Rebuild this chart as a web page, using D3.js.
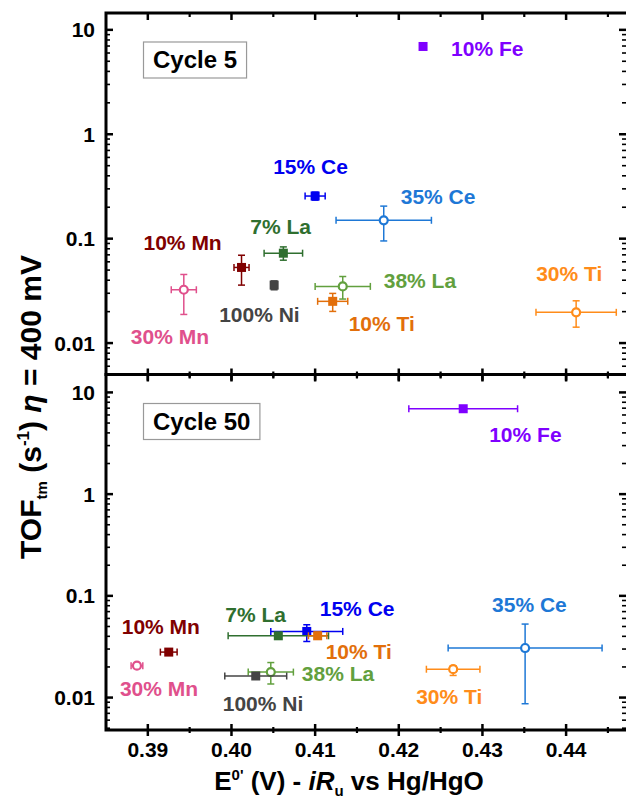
<!DOCTYPE html>
<html>
<head>
<meta charset="utf-8">
<script src="https://cdn.jsdelivr.net/npm/d3@7"></script>
<style>
  body { margin: 0; background: #fff; }
  svg { display: block; font-family: "Liberation Sans", Arial, sans-serif; font-weight: bold; }
</style>
</head>
<body>
<svg id="chart" width="626" height="802"></svg>
<script>
// Catalysts and their series styling
const catalysts = ["10% Fe", "15% Ce", "35% Ce", "7% La", "38% La", "10% Mn", "30% Mn", "100% Ni", "10% Ti", "30% Ti"];
const seriesColors = ["#7f00ff", "#0000f0", "#1e78d6", "#2f6f2f", "#62a03e", "#800000", "#e0508c", "#444444", "#e26f0b", "#ff8c1a"];
const openMarker = [false, false, true, false, true, false, true, false, false, true];

// Cycle 5: formal potential (V), its error, TOF (s^-1) and TOF error range
const cycle5E    = [0.4229, 0.4100, 0.4182, 0.4062, 0.4133, 0.4012, 0.3943, 0.4051, 0.4121, 0.4412];
const cycle5Eerr = [0,      0.0012, 0.0057, 0.0023, 0.0033, 0.0009, 0.0015, 0.0003, 0.0018, 0.0048];
const cycle5TOF  = [6.93,   0.256,  0.150,  0.0726, 0.0349, 0.0530, 0.0324, 0.0359, 0.0251, 0.0197];
const cycle5Lo   = [null,   0.234,  0.0951, 0.0622, 0.0264, 0.0359, 0.0188, 0.0324, 0.0201, 0.0142];
const cycle5Hi   = [null,   0.279,  0.205,  0.0834, 0.0434, 0.0694, 0.0454, 0.0394, 0.0299, 0.0254];

// Cycle 50
const cycle50E    = [0.4277, 0.4090, 0.4351, 0.4056, 0.4047, 0.3925, 0.3887, 0.4029, 0.4103, 0.4265];
const cycle50Eerr = [0.0065, 0.0043, 0.0092, 0.0060, 0.0027, 0.0010, 0.0007, 0.0037, 0.0011, 0.0032];
const cycle50TOF  = [6.91,   0.0447, 0.0307, 0.0405, 0.0178, 0.0280, 0.0206, 0.0163, 0.0405, 0.0190];
const cycle50Lo   = [null,   0.0356, 0.0087, null,   0.0136, null,   null,   null,   0.0375, 0.0165];
const cycle50Hi   = [null,   0.0520, 0.0528, null,   0.0221, null,   null,   null,   0.0440, 0.0205];

// Axis ticks
const xMajorTicks = [0.39, 0.40, 0.41, 0.42, 0.43, 0.44];
const xTickLabels = ["0.39", "0.40", "0.41", "0.42", "0.43", "0.44"];
const xMinorTicks = [0.395, 0.405, 0.415, 0.425, 0.435, 0.445];
const yMajorTicks = [0.01, 0.1, 1, 10];
const yTickLabels = ["0.01", "0.1", "1", "10"];

// Label placement relative to each marker (left edge, baseline), in px
const labelOffset5  = [[28, 10], [-42, -22], [17, -16], [-33, -19], [41, 2], [-98, -17], [-53, 54], [-55, 37], [16, 30], [-40, -31]];
const labelOffset50 = [[26, 33], [13, -15], [-33, -36], [-53, -14], [31, 9], [-47, -18], [-17, 30], [-33, 35], [8, 23], [-37, 35]];

const svg = d3.select("#chart");
const left = 106, right = 628;
const x = d3.scaleLinear().domain([0.385, 0.4474]).range([left, right]);

const panels = [
  { title: "Cycle 5", top: 13, bottom: 374.5,
    y: d3.scaleLog().domain([0.005, 14.5]).range([374.5, 13]),
    E: cycle5E, Eerr: cycle5Eerr, T: cycle5TOF, lo: cycle5Lo, hi: cycle5Hi, off: labelOffset5, xLabels: false },
  { title: "Cycle 50", top: 374.5, bottom: 730,
    y: d3.scaleLog().domain([0.0048, 15]).range([730, 374.5]),
    E: cycle50E, Eerr: cycle50Eerr, T: cycle50TOF, lo: cycle50Lo, hi: cycle50Hi, off: labelOffset50, xLabels: true }
];

const cap = 3.5;

panels.forEach(p => {
  const g = svg.append("g");
  const y = p.y;

  // y minor ticks: 2..9 of each decade inside the domain
  const [d0, d1] = y.domain();
  const yMinor = [];
  for (let e = -3; e <= 1; e++) {
    for (let m = 2; m <= 9; m++) {
      const v = m * Math.pow(10, e);
      if (v > d0 && v < d1) yMinor.push(v);
    }
  }

  const axes = g.append("g").attr("stroke", "#000");
  // left and right axes, ticks pointing inward
  yMajorTicks.forEach(v => {
    axes.append("line").attr("x1", left).attr("x2", left + 7).attr("y1", y(v)).attr("y2", y(v)).attr("stroke-width", 2.5);
    axes.append("line").attr("x1", right).attr("x2", right - 9).attr("y1", y(v)).attr("y2", y(v)).attr("stroke-width", 2.5);
  });
  yMinor.forEach(v => {
    axes.append("line").attr("x1", left).attr("x2", left + 4).attr("y1", y(v)).attr("y2", y(v)).attr("stroke-width", 1.6);
    axes.append("line").attr("x1", right).attr("x2", right - 6).attr("y1", y(v)).attr("y2", y(v)).attr("stroke-width", 1.6);
  });
  // top ticks inward, bottom ticks crossing the axis line
  xMajorTicks.forEach(v => {
    axes.append("line").attr("x1", x(v)).attr("x2", x(v)).attr("y1", p.top).attr("y2", p.top + 7).attr("stroke-width", 2.5);
    axes.append("line").attr("x1", x(v)).attr("x2", x(v)).attr("y1", p.bottom - 6).attr("y2", p.bottom + 6).attr("stroke-width", 2.5);
  });
  xMinorTicks.forEach(v => {
    axes.append("line").attr("x1", x(v)).attr("x2", x(v)).attr("y1", p.top).attr("y2", p.top + 4).attr("stroke-width", 2.2);
    axes.append("line").attr("x1", x(v)).attr("x2", x(v)).attr("y1", p.bottom - 3).attr("y2", p.bottom + 3).attr("stroke-width", 2.2);
  });

  // y tick labels
  g.append("g").selectAll("text").data(yMajorTicks).join("text")
    .attr("x", 95).attr("y", d => y(d)).attr("dy", "0.36em")
    .attr("text-anchor", "end").attr("font-size", 21).attr("fill", "#000")
    .text((d, i) => yTickLabels[i]);

  // x tick labels on the lower panel only
  if (p.xLabels) {
    g.append("g").selectAll("text").data(xMajorTicks).join("text")
      .attr("x", d => x(d)).attr("y", 757)
      .attr("text-anchor", "middle").attr("font-size", 21).attr("fill", "#000")
      .text((d, i) => xTickLabels[i]);
  }

  // error bars and markers
  catalysts.forEach((name, i) => {
    const c = seriesColors[i];
    const cx = x(p.E[i]), cy = y(p.T[i]);
    const s = g.append("g").attr("stroke", c).attr("stroke-width", 1.5).attr("fill", "none");
    if (p.Eerr[i] > 0) {
      const xa = x(p.E[i] - p.Eerr[i]), xb = x(p.E[i] + p.Eerr[i]);
      s.append("line").attr("x1", xa).attr("x2", xb).attr("y1", cy).attr("y2", cy);
      s.append("line").attr("x1", xa).attr("x2", xa).attr("y1", cy - cap).attr("y2", cy + cap);
      s.append("line").attr("x1", xb).attr("x2", xb).attr("y1", cy - cap).attr("y2", cy + cap);
    }
    if (p.lo[i] != null) {
      const ya = y(p.lo[i]), yb = y(p.hi[i]);
      s.append("line").attr("x1", cx).attr("x2", cx).attr("y1", ya).attr("y2", yb);
      s.append("line").attr("x1", cx - cap).attr("x2", cx + cap).attr("y1", ya).attr("y2", ya);
      s.append("line").attr("x1", cx - cap).attr("x2", cx + cap).attr("y1", yb).attr("y2", yb);
    }
    if (openMarker[i]) {
      g.append("circle").attr("cx", cx).attr("cy", cy).attr("r", 4)
        .attr("fill", "#fff").attr("stroke", c).attr("stroke-width", 2.2);
    } else {
      g.append("rect").attr("x", cx - 4.5).attr("y", cy - 4.5).attr("width", 9).attr("height", 9)
        .attr("fill", c);
    }
    g.append("text")
      .attr("x", cx + p.off[i][0]).attr("y", cy + p.off[i][1])
      .attr("font-size", 21).attr("fill", c)
      .text(name);
  });

  // panel frame
  g.append("rect").attr("x", left).attr("y", p.top)
    .attr("width", right - left).attr("height", p.bottom - p.top)
    .attr("fill", "none").attr("stroke", "#000").attr("stroke-width", 3);

  // cycle caption box
  const bx = left + 37.5, by = p.top + 29;
  const box = g.append("rect").attr("fill", "#fff").attr("stroke", "#999").attr("stroke-width", 1.2);
  const t = g.append("text").attr("font-size", 24).attr("fill", "#000").text(p.title);
  const w = t.node().getComputedTextLength();
  box.attr("x", bx).attr("y", by).attr("width", w + 19).attr("height", 36);
  t.attr("x", bx + 9.5).attr("y", by + 26);
});

// axis titles
const xt = svg.append("text").attr("x", 349).attr("y", 790)
  .attr("text-anchor", "middle").attr("font-size", 26).attr("fill", "#000");
xt.append("tspan").text("E");
xt.append("tspan").attr("font-size", 15).attr("dy", -10).text("0'");
xt.append("tspan").attr("dy", 10).text(" (V) - ");
xt.append("tspan").attr("font-style", "italic").text("iR");
xt.append("tspan").attr("font-size", 15).attr("dy", 6).text("u");
xt.append("tspan").attr("dy", -6).text(" vs Hg/HgO");

const yt = svg.append("text").attr("transform", "translate(41,407) rotate(-90)")
  .attr("text-anchor", "middle").attr("font-size", 30).attr("fill", "#000");
yt.append("tspan").text("TOF");
yt.append("tspan").attr("font-size", 15).attr("dy", 6).text("tm");
yt.append("tspan").attr("dy", -6).text(" (s");
yt.append("tspan").attr("font-size", 17).attr("dy", -12).text("-1");
yt.append("tspan").attr("dy", 12).text(") ");
yt.append("tspan").attr("font-style", "italic").text("η");
yt.append("tspan").text(" = 400 mV");
</script>
</body>
</html>
